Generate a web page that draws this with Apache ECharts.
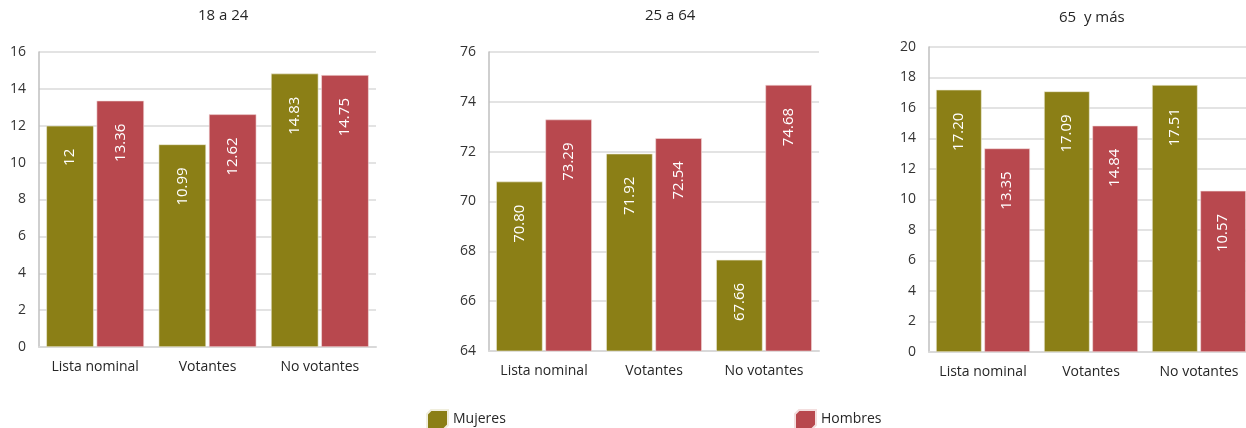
<!DOCTYPE html>
<html>
<head>
<meta charset="utf-8">
<style>
html,body{margin:0;padding:0;background:#fff;}
#c{width:1246px;height:428px;}
</style>
<script src="https://cdn.jsdelivr.net/npm/echarts@6/dist/echarts.min.js"></script>
</head>
<body>
<div id="c"></div>
<script>
const categories = ['Lista nominal', 'Votantes', 'No votantes'];
const panelTitles = ['18 a 24', '25 a 64', '65  y más'];
const mujeres18 = [12, 10.99, 14.83];
const hombres18 = [13.36, 12.62, 14.75];
const mujeres25 = [70.80, 71.92, 67.66];
const hombres25 = [73.29, 72.54, 74.68];
const mujeres65 = [17.20, 17.09, 17.51];
const hombres65 = [13.35, 14.84, 10.57];
const yMin = [0, 64, 0];
const yMax = [16, 76, 20];
const yInterval = [2, 2, 2];

const FONT = 'Open Sans';
const OLIVE = '#8B7F16';
const RED = '#B8484E';

const grids = [
  {left: 39, top: 52, width: 337, height: 295, outerBoundsMode: 'none'},
  {left: 489, top: 52, width: 330, height: 299, outerBoundsMode: 'none'},
  {left: 929, top: 47, width: 324, height: 305, outerBoundsMode: 'none'}
];
const titlePos = [[198, 8], [645, 8], [1059, 10]];
const mujData = [mujeres18, mujeres25, mujeres65];
const homData = [hombres18, hombres25, hombres65];
const fmt = [
  p => String(p.value),
  p => p.value.toFixed(2),
  p => p.value.toFixed(2)
];

const xAxes = [], yAxes = [], series = [], titles = [];
for (let i = 0; i < 3; i++) {
  titles.push({
    text: panelTitles[i], left: titlePos[i][0], top: titlePos[i][1], padding: 0,
    textStyle: {fontFamily: FONT, fontSize: 15, fontWeight: 'normal', color: '#262626'}
  });
  xAxes.push({
    type: 'category', gridIndex: i, data: categories,
    axisLine: {show: true, lineStyle: {color: '#d9d9d9', width: 2}},
    axisTick: {show: false},
    axisLabel: {fontFamily: FONT, fontSize: 14, color: '#262626', margin: 13, interval: 0}
  });
  yAxes.push({
    type: 'value', gridIndex: i, min: yMin[i], max: yMax[i], interval: yInterval[i],
    axisLine: {show: true, lineStyle: {color: '#bfbfbf', width: 1.5}},
    axisTick: {show: false},
    splitLine: {show: true, lineStyle: {color: '#e3e3e3', width: 2}},
    axisLabel: {fontFamily: FONT, fontSize: 14, color: '#333', margin: 13}
  });
  const lbl = {
    show: true, rotate: 90, position: ['50%', 23], align: 'right', verticalAlign: 'middle',
    color: '#fff', fontFamily: FONT, fontSize: 15, formatter: fmt[i]
  };
  series.push({
    name: 'Mujeres', type: 'bar', xAxisIndex: i, yAxisIndex: i, data: mujData[i],
    barCategoryGap: '13%', barGap: '6%',
    itemStyle: {color: OLIVE, borderColor: '#f0eedd', borderWidth: 0.6},
    label: lbl
  });
  series.push({
    name: 'Hombres', type: 'bar', xAxisIndex: i, yAxisIndex: i, data: homData[i],
    barCategoryGap: '13%', barGap: '6%',
    itemStyle: {color: RED, borderColor: '#f3dede', borderWidth: 0.6},
    label: lbl
  });
}

const cube = 'path://M0,4 L4,0 L21,0 L21,15 L17,19 L0,19 Z';
const chart = echarts.init(document.getElementById('c'), null, {renderer: 'canvas'});
chart.setOption({
  animation: false,
  title: titles,
  grid: grids,
  xAxis: xAxes,
  yAxis: yAxes,
  legend: [
    {data: [{name: 'Mujeres', icon: cube}], left: 421, top: 404, itemWidth: 21, itemHeight: 19, itemGap: 8,
     textStyle: {fontFamily: FONT, fontSize: 14, color: '#262626'}},
    {data: [{name: 'Hombres', icon: cube}], left: 789, top: 404, itemWidth: 21, itemHeight: 19, itemGap: 8,
     textStyle: {fontFamily: FONT, fontSize: 14, color: '#262626'}}
  ],
  series: series
});
</script>
</body>
</html>
